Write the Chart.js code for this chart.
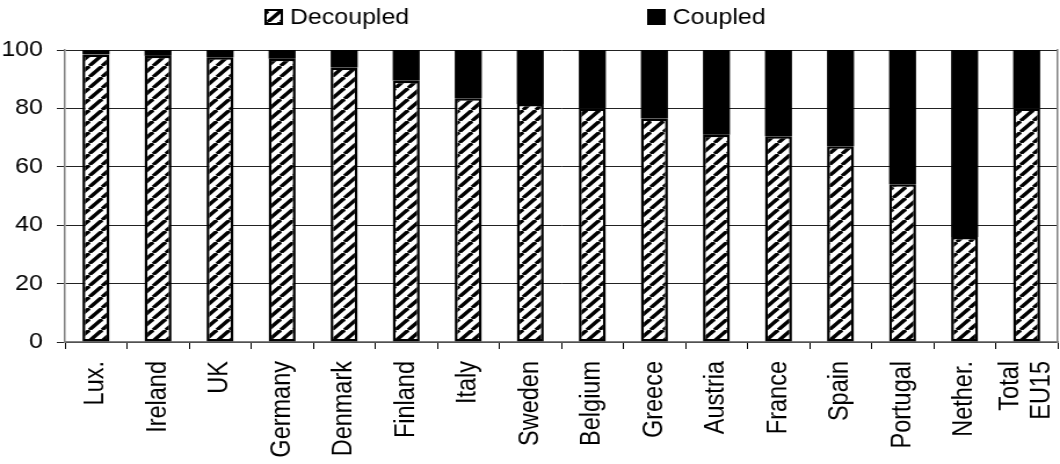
<!DOCTYPE html>
<html>
<head>
<meta charset="utf-8">
<script src="https://cdn.jsdelivr.net/npm/chart.js@4/dist/chart.umd.min.js"></script>
<style>
  html, body { margin: 0; padding: 0; background: #fff; }
</style>
</head>
<body>
<canvas id="chart" width="914" height="464" style="display:block;width:1060px;height:464px"></canvas>
<script>
  // share of each country's support, in percent
  var countries = ["Lux.", "Ireland", "UK", "Germany", "Denmark", "Finland", "Italy", "Sweden",
    "Belgium", "Greece", "Austria", "France", "Spain", "Portugal", "Nether.", ["Total", "EU15"]];
  var decoupled = [98.5, 98, 97.5, 97, 94, 89.5, 83.5, 81.5, 80, 76.5, 71, 70.5, 67, 54, 36, 80];
  var coupled = [1.5, 2, 2.5, 3, 6, 10.5, 16.5, 18.5, 20, 23.5, 29, 29.5, 33, 46, 64, 20];
  var yTicks = [0, 20, 40, 60, 80, 100];

  var FONT = "'Liberation Sans', Arial, sans-serif";

  // diagonal hatch used for the decoupled part
  function hatch() {
    var w = 11, h = 11;
    var c = document.createElement("canvas");
    c.width = w;
    c.height = h;
    var g = c.getContext("2d");
    g.fillStyle = "#fff";
    g.fillRect(0, 0, w, h);
    g.strokeStyle = "#000";
    g.lineWidth = 3.4;
    for (var k = -1; k <= 1; k++) {
      g.beginPath();
      g.moveTo(k * w, h);
      g.lineTo(k * w + w, 0);
      g.stroke();
    }
    return g.createPattern(c, "repeat");
  }

  // two legend entries spread over the top line
  var legendRow = {
    id: "legendRow",
    afterDraw: function (chart, args, opts) {
      var ctx = chart.ctx;
      ctx.save();
      ctx.font = opts.fontSize + "px " + FONT;
      ctx.textBaseline = "middle";
      chart.data.datasets.forEach(function (ds, i) {
        var x = opts.x[i], y = opts.y, b = opts.box;
        ctx.fillStyle = ds.backgroundColor;
        ctx.fillRect(x, y, b, b);
        ctx.lineWidth = 2;
        ctx.strokeStyle = "#000";
        ctx.strokeRect(x + 1, y + 1, b - 2, b - 2);
        ctx.fillStyle = "#000";
        ctx.fillText(ds.label, x + b + opts.gap, y + b / 2 + 1);
      });
      ctx.restore();
    }
  };

  // rotated labels with several lines: center the block of lines on the tick
  var centerLines = {
    id: "centerLines",
    beforeDraw: function (chart) {
      chart.scales.x.getLabelItems().forEach(function (it) {
        if (Array.isArray(it.label) && !it.shifted) {
          it.options.translation[0] -= it.font.lineHeight * (it.label.length - 1) / 2;
          it.shifted = true;
        }
      });
    }
  };

  var pattern = hatch();

  new Chart(document.getElementById("chart"), {
    type: "bar",
    data: {
      labels: countries,
      datasets: [
        {
          label: "Decoupled",
          data: decoupled,
          backgroundColor: pattern,
          borderColor: "#000",
          borderWidth: 2.5,
          borderSkipped: false,
          barPercentage: 0.435,
          categoryPercentage: 1
        },
        {
          label: "Coupled",
          data: coupled,
          backgroundColor: "#000",
          borderColor: "#000",
          borderWidth: 0,
          barPercentage: 0.435,
          categoryPercentage: 1
        }
      ]
    },
    plugins: [legendRow, centerLines],
    options: {
      responsive: false,
      animation: false,
      devicePixelRatio: 1,
      layout: { padding: { top: 50, left: 0, right: 2, bottom: 0 } },
      plugins: {
        legend: { display: false },
        tooltip: { enabled: false },
        legendRow: { x: [228, 558], y: 9, box: 16, gap: 6, fontSize: 21.5 }
      },
      scales: {
        x: {
          stacked: true,
          offset: true,
          grid: {
            offset: true,
            drawOnChartArea: false,
            drawTicks: true,
            tickLength: 7,
            color: "#000"
          },
          border: { color: "#808080", width: 1.5 },
          ticks: {
            color: "#000",
            font: { family: FONT, size: 23.5, lineHeight: 1.13 },
            padding: 12,
            minRotation: 90,
            maxRotation: 90,
            autoSkip: false
          },
          afterFit: function (s) {
            s.height = 122;
            s.paddingLeft = 0;
            s.paddingRight = 0;
          }
        },
        y: {
          stacked: true,
          min: 0,
          max: 100,
          afterBuildTicks: function (s) {
            s.ticks = yTicks.map(function (v) { return { value: v }; });
          },
          grid: { color: "#222", tickLength: 7, drawTicks: true },
          border: { color: "#808080", width: 1.5 },
          ticks: {
            color: "#000",
            font: { family: FONT, size: 21.5 },
            padding: 12
          },
          afterFit: function (s) { s.width = 56; }
        },
        y2: {
          position: "right",
          min: 0,
          max: 100,
          grid: { drawOnChartArea: false, drawTicks: false },
          border: { color: "#808080", width: 1.5 },
          ticks: { display: false },
          afterFit: function (s) { s.width = 0; }
        }
      }
    }
  });
</script>
</body>
</html>
